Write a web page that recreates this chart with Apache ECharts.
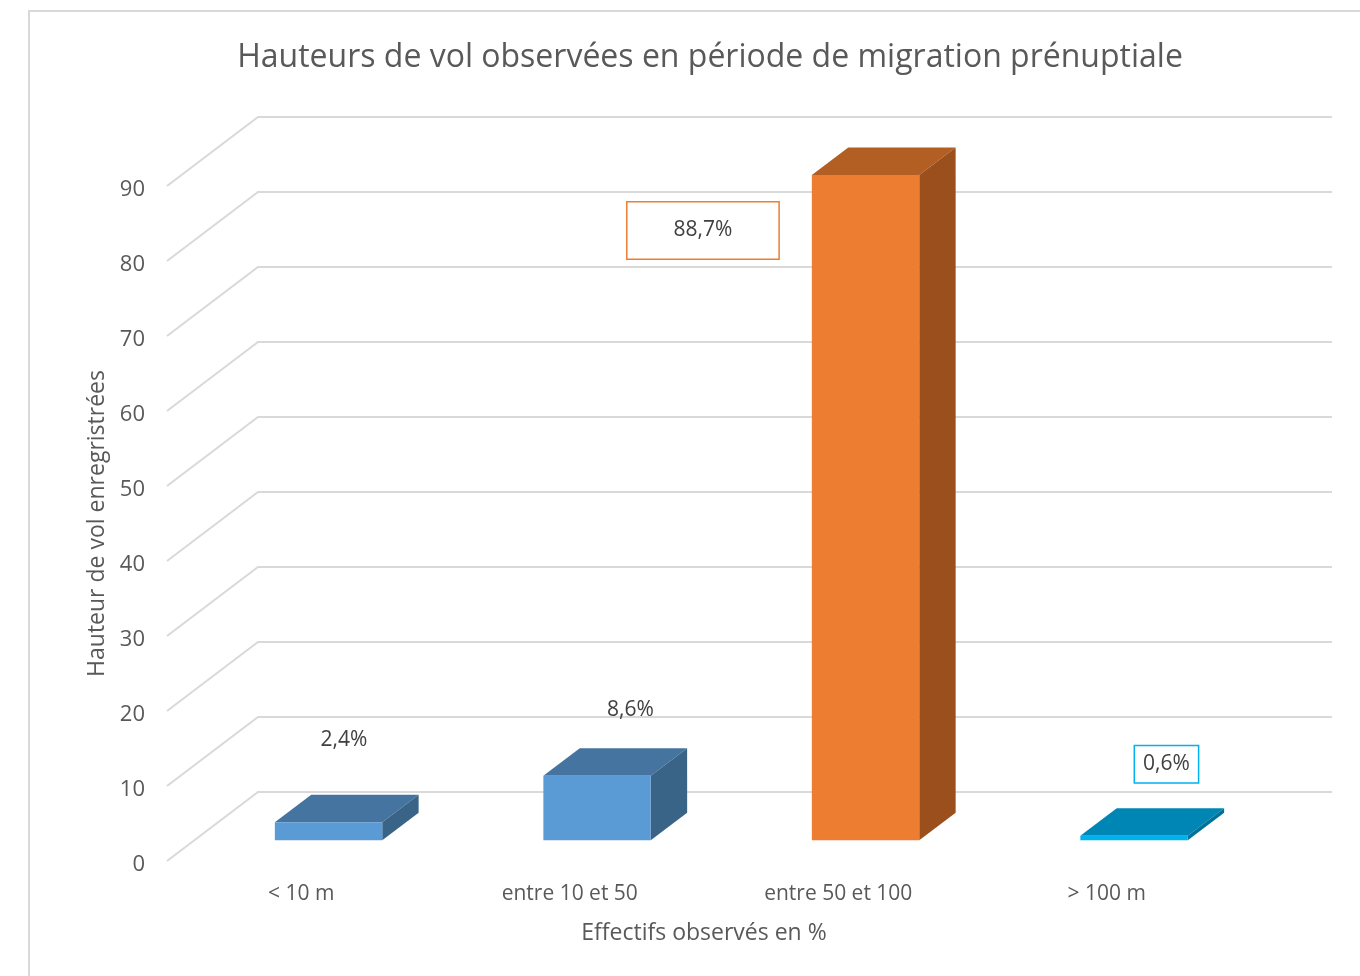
<!DOCTYPE html>
<html>
<head>
<meta charset="utf-8">
<script src="https://cdn.jsdelivr.net/npm/echarts@6/dist/echarts.min.js"></script>
<style>
  html, body { margin: 0; padding: 0; background: #fff; }
  #chart { width: 1360px; height: 976px; }
</style>
</head>
<body>
<div id="chart"></div>
<script>
// donnees
var categories = ['< 10 m', 'entre 10 et 50', 'entre 50 et 100', '> 100 m'];
var values = [2.4, 8.6, 88.7, 0.6];
var valueLabels = ['2,4%', '8,6%', '88,7%', '0,6%'];
var yTicks = [0, 10, 20, 30, 40, 50, 60, 70, 80, 90];

// couleurs des faces (avant, dessus, cote)
var faceColors = [
  ['#5b9bd5', '#44749f', '#3a6487'],
  ['#5b9bd5', '#44749f', '#3a6487'],
  ['#ed7d31', '#b35e22', '#9a4f1d'],
  ['#00b0f0', '#0086b4', '#00729a']
];
// position des etiquettes par rapport au haut de la barre (px)
var labelShift = [[-21, -55], [-3, -38], [-199, 83], [-4, -44]];
var labelBox = [null, null, '#ed7d31', '#00b0f0'];
var labelPad = [0, 0, [17.5, 46], [7.5, 8]];

var FONT = '"Open Sans", sans-serif';
var DX = 91, DY = -69;      // profondeur du plancher
var D0 = 0.30, D1 = 0.70;   // profondeur des barres

var chart = echarts.init(document.getElementById('chart'));

function gridItem(params, api) {
  var cs = params.coordSys;
  var p = api.coord([0, api.value(1)]);
  var y = p[1];
  return {
    type: 'polyline',
    shape: { points: [[cs.x, y], [cs.x + DX, y + DY], [cs.x + cs.width + DX, y + DY]] },
    style: { stroke: '#d9d9d9', lineWidth: 2, fill: null },
    silent: true
  };
}

function barItem(params, api) {
  var i = api.value(0);
  var base = api.coord([i, 0]);
  var top = api.coord([i, api.value(1)]);
  var w = api.size([1, 0])[0] * 0.4;
  var x0 = base[0] - w / 2 + DX * D0;
  var yb = base[1] + DY * D0;
  var yt = top[1] + DY * D0;
  var ddx = DX * (D1 - D0), ddy = DY * (D1 - D0);
  var c = faceColors[i];
  var lx = x0 + w / 2 + ddx + labelShift[i][0];
  var ly = yt + ddy + labelShift[i][1];
  var txtStyle = {
    text: valueLabels[i], x: lx, y: ly, align: 'center', verticalAlign: 'middle',
    fill: '#404040', font: '21px ' + FONT
  };
  if (labelBox[i]) {
    txtStyle.borderColor = labelBox[i];
    txtStyle.borderWidth = 1.5;
    txtStyle.padding = labelPad[i];
    txtStyle.backgroundColor = '#fff';
  }
  return {
    type: 'group',
    children: [
      { type: 'polygon', shape: { points: [[x0, yt], [x0 + w, yt], [x0 + w + ddx, yt + ddy], [x0 + ddx, yt + ddy]] },
        style: { fill: c[1] } },
      { type: 'polygon', shape: { points: [[x0 + w, yt], [x0 + w, yb], [x0 + w + ddx, yb + ddy], [x0 + w + ddx, yt + ddy]] },
        style: { fill: c[2] } },
      { type: 'rect', shape: { x: x0, y: yt, width: w, height: yb - yt }, style: { fill: c[0] } },
      { type: 'text', style: txtStyle }
    ]
  };
}

chart.setOption({
  animation: false,
  backgroundColor: '#fff',
  textStyle: { fontFamily: FONT },
  graphic: [{
    type: 'rect', silent: true, z: -10,
    shape: { x: 29, y: 11, width: 2000, height: 2000 },
    style: { fill: null, stroke: '#d9d9d9', lineWidth: 2 }
  }],
  title: {
    text: 'Hauteurs de vol observées en période de migration prénuptiale',
    left: 705, top: 37, textAlign: 'center',
    textStyle: { color: '#595959', fontSize: 32, fontWeight: 'normal', fontFamily: FONT }
  },
  grid: { left: 167, right: 119, top: 186, bottom: 115 },
  xAxis: {
    type: 'category',
    data: categories,
    name: 'Effectifs observés en %',
    nameLocation: 'middle',
    nameGap: 61,
    nameTextStyle: { color: '#595959', fontSize: 23, fontFamily: FONT },
    axisLine: { show: false },
    axisTick: { show: false },
    axisLabel: { color: '#595959', fontSize: 21, margin: 23, fontFamily: FONT },
    splitLine: { show: false }
  },
  yAxis: {
    type: 'value',
    min: 0, max: 90, interval: 10,
    name: 'Hauteur de vol enregristrées',
    nameLocation: 'middle',
    nameGap: 57,
    nameRotate: 90,
    nameTextStyle: { color: '#595959', fontSize: 23, fontFamily: FONT },
    axisLine: { show: false },
    axisTick: { show: false },
    splitLine: { show: false },
    axisLabel: { color: '#595959', margin: 22, fontFamily: FONT,
      formatter: function (v) { return yTicks.indexOf(v) >= 0 ? '{t|' + v + '}' : ''; },
      rich: { t: { fontSize: 22, color: '#595959', fontFamily: FONT, padding: [8, 0, 0, 0] } } }
  },
  series: [
    {
      type: 'custom', z: 1, silent: true,
      renderItem: gridItem,
      data: yTicks.map(function (v) { return [0, v]; })
    },
    {
      type: 'custom', z: 5,
      renderItem: barItem,
      data: values.map(function (v, i) { return [i, v]; })
    }
  ]
});
</script>
</body>
</html>
